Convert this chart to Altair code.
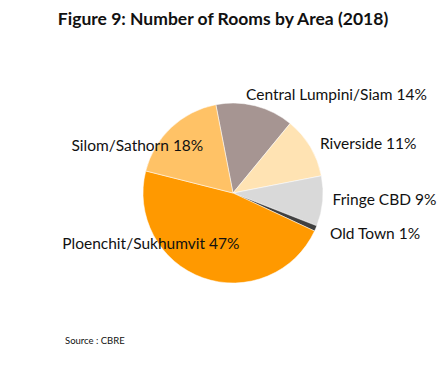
import math
import altair as alt
import pandas as pd

categories = ["Central Lumpini/Siam", "Riverside", "Fringe CBD", "Old Town",
              "Ploenchit/Sukhumvit", "Silom/Sathorn"]
shares = [14, 11, 9, 1, 47, 18]
labels = ["Central Lumpini/Siam 14%", "Riverside 11%", "Fringe CBD 9%",
          "Old Town 1%", "Ploenchit/Sukhumvit 47%", "Silom/Sathorn 18%"]
colors = ["#A69592", "#FFE3B3", "#D9D9D9", "#404040", "#FF9900", "#FFC266"]

df = pd.DataFrame({"cat": categories, "value": shares, "label": labels,
                   "idx": list(range(len(categories)))})

start = -11 * math.pi / 180
theta_scale = alt.Scale(domain=[0, 100], range=[start, start + 2 * math.pi])
CX, CY = 225, 145

base = alt.Chart(df).transform_window(
    cum="sum(value)", frame=[None, 0], sort=[{"field": "idx"}]
).transform_calculate(mid="datum.cum - datum.value / 2")

pie = base.mark_arc(radius=90, stroke="#ffffff", strokeWidth=0.5).encode(
    theta=alt.Theta("value:Q", stack=True, scale=theta_scale),
    order=alt.Order("idx:Q"),
    color=alt.Color("cat:N", scale=alt.Scale(domain=categories, range=colors), legend=None),
    x=alt.value(CX), y=alt.value(CY),
)

# label placement: (category, align, dx, dy)
placements = [
    ("Central Lumpini/Siam", "left", -11.5, -1),
    ("Riverside", "left", 1, 2),
    ("Fringe CBD", "left", 0, -2),
    ("Old Town", "left", 5, 2),
    ("Silom/Sathorn", "right", 39, 26),
    ("Ploenchit/Sukhumvit", "right", 40, -43),
]

layers = [pie]
for cat, align, dx, dy in placements:
    layers.append(
        base.transform_filter(alt.datum.cat == cat).mark_text(
            radius=100, align=align, baseline="middle", dx=dx, dy=dy,
            font="Lato", fontSize=15.5, color="#111111"
        ).encode(
            theta=alt.Theta("mid:Q", scale=theta_scale),
            text="label:N",
            x=alt.value(CX), y=alt.value(CY),
        )
    )

source = alt.Chart(pd.DataFrame({"t": ["Source : CBRE"]})).mark_text(
    align="left", baseline="middle", font="Lato", fontSize=9.5, color="#111111"
).encode(text="t:N", x=alt.value(57), y=alt.value(293))
layers.append(source)

chart = alt.layer(*layers).properties(
    width=430, height=309,
    padding={"top": 40, "left": 0, "right": 0, "bottom": 0},
    autosize=alt.AutoSizeParams(type="none"),
    title=alt.TitleParams(
        "Figure 9: Number of Rooms by Area (2018)",
        font="Lato", fontSize=17.5, fontWeight="bold", color="#111111",
        anchor="middle", offset=20,
    ),
).configure_view(stroke=None)

chart.save("out.html", embed_options={"renderer": "svg", "actions": False})
